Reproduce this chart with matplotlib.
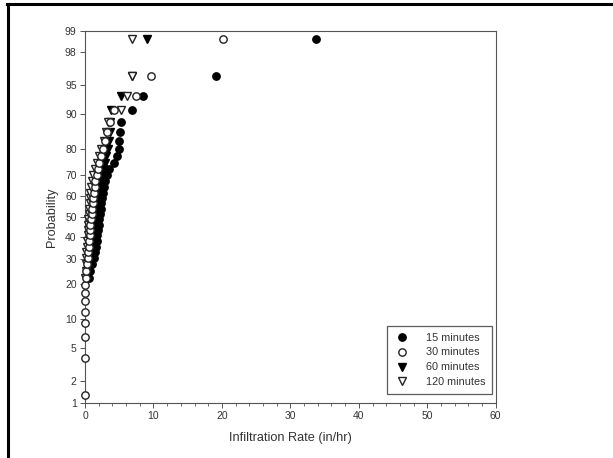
import math
from statistics import NormalDist

import matplotlib
matplotlib.use("Agg")
import matplotlib.pyplot as plt
import numpy as np
from matplotlib.lines import Line2D
from matplotlib.ticker import FixedLocator, MultipleLocator, NullLocator

nan = float("nan")

# plotting positions (percent) shared by all four series
prob = [1.3, 3.9, 6.6, 9.2, 11.8, 14.5, 17.1, 19.7, 22.4, 25.0,
        27.6, 30.3, 32.9, 35.5, 38.2, 40.8, 43.4, 46.1, 48.7, 51.3,
        53.9, 56.6, 59.2, 61.8, 64.5, 67.1, 69.7, 72.4, 75.0, 77.6,
        80.3, 82.9, 85.5, 88.2, 90.8, 93.4, 96.1, 98.7]

rate_15 = [nan, nan, nan, nan, nan, nan, nan, nan, 0.6, 0.8,
           1.0, 1.3, 1.5, 1.6, 1.7, 1.8, 1.9, 2.0, 2.1, 2.2,
           2.3, 2.4, 2.5, 2.6, 2.7, 2.9, 3.2, 3.5, 4.2, 4.6,
           5.0, 5.0, 5.1, 5.2, 6.8, 8.5, 19.1, 33.7]
rate_30 = [0.0, 0.0, 0.0, 0.0, 0.0, 0.0, 0.0, 0.0, 0.1, 0.2,
           0.3, 0.4, 0.5, 0.6, 0.6, 0.7, 0.8, 0.8, 0.9, 1.0,
           1.0, 1.1, 1.2, 1.3, 1.4, 1.5, 1.7, 1.9, 2.1, 2.3,
           2.6, 2.9, 3.2, 3.6, 4.3, 7.5, 9.7, 20.2]
rate_60 = [nan, nan, nan, nan, nan, nan, nan, nan, 0.3, 0.4,
           0.5, 0.7, 1.0, 1.2, 1.3, 1.4, 1.5, 1.5, 1.6, 1.7,
           1.8, 1.9, 2.0, 2.0, 2.1, 2.2, 2.4, 2.6, 2.9, 3.1,
           3.3, 3.5, 3.6, 3.7, 3.8, 5.3, 6.8, 9.0]
rate_120 = [nan, nan, nan, nan, nan, nan, nan, nan, 0.0, 0.1,
            0.1, 0.2, 0.2, 0.3, 0.3, 0.4, 0.4, 0.5, 0.5, 0.6,
            0.6, 0.7, 0.7, 0.8, 0.9, 1.0, 1.2, 1.5, 1.8, 2.1,
            2.4, 2.7, 3.0, 3.3, 5.3, 6.1, 6.8, 6.8]

series_labels = ["15 minutes", "30 minutes", "60 minutes", "120 minutes"]
prob_ticks = [1, 2, 5, 10, 20, 30, 40, 50, 60, 70, 80, 90, 95, 98, 99]

ND = NormalDist()


def prob_fwd(p):
    p = np.asarray(p, dtype=float)
    out = np.full(p.shape, np.nan)
    ok = np.isfinite(p)
    q = np.clip(p[ok] / 100.0, 1e-9, 1 - 1e-9)
    out[ok] = [ND.inv_cdf(v) for v in q]
    return out


def prob_inv(z):
    z = np.asarray(z, dtype=float)
    out = np.full(z.shape, np.nan)
    ok = np.isfinite(z)
    out[ok] = [50.0 * (1 + math.erf(v / math.sqrt(2))) for v in z[ok]]
    return out


plt.rcParams["font.family"] = ["Liberation Sans", "DejaVu Sans"]
text_col = "#333333"
line_col = "#555555"

fig = plt.figure(figsize=(6.13, 4.58), dpi=100)
ax = fig.add_axes([0.1387, 0.120, 0.670, 0.8134])

styles = [
    dict(marker="o", mfc="black", mec="black"),
    dict(marker="o", mfc="white", mec="#222222"),
    dict(marker="v", mfc="black", mec="black"),
    dict(marker="v", mfc="white", mec="#222222"),
]
zorders = [3, 6, 4, 5]
for rates, lab, st, zo in zip([rate_15, rate_30, rate_60, rate_120],
                              series_labels, styles, zorders):
    ax.plot(rates, prob, linestyle="none", ms=5.3, mew=1.0,
            label=lab, zorder=zo, clip_on=False, **st)

ax.set_yscale("function", functions=(prob_fwd, prob_inv))
ax.set_ylim(1, 99)
ax.set_xlim(0, 60)
ax.yaxis.set_major_locator(FixedLocator(prob_ticks))
ax.yaxis.set_minor_locator(NullLocator())
ax.set_yticklabels([str(t) for t in prob_ticks])
ax.xaxis.set_major_locator(MultipleLocator(10))
ax.xaxis.set_minor_locator(MultipleLocator(2))

ax.tick_params(which="major", direction="out", length=3.5, width=0.7,
               color=line_col, labelsize=7.5, labelcolor=text_col, pad=2.5)
ax.tick_params(which="minor", direction="out", length=2, width=0.6, color=line_col)
for sp in ax.spines.values():
    sp.set_color(line_col)
    sp.set_linewidth(0.8)

ax.set_xlabel("Infiltration Rate (in/hr)", fontsize=9.2, color=text_col, labelpad=8)
ax.set_ylabel("Probability", fontsize=9.2, color=text_col, labelpad=5)

leg = ax.legend(loc="lower right", bbox_to_anchor=(0.99, 0.025), fontsize=7.8,
                frameon=True, fancybox=False, shadow=False, borderpad=0.6,
                labelspacing=0.45, handletextpad=1.4, borderaxespad=0.0,
                handlelength=1.6)
leg.get_frame().set_edgecolor("#333333")
leg.get_frame().set_linewidth(0.9)
for t in leg.get_texts():
    t.set_color(text_col)

# scan border lines
fig.add_artist(Line2D([0.012, 1.0], [0.992, 0.992], transform=fig.transFigure,
                      color="black", lw=2.2))
fig.add_artist(Line2D([0.013, 0.013], [0.0, 0.992], transform=fig.transFigure,
                      color="black", lw=2.2))

fig.savefig("out.png", dpi=100)
